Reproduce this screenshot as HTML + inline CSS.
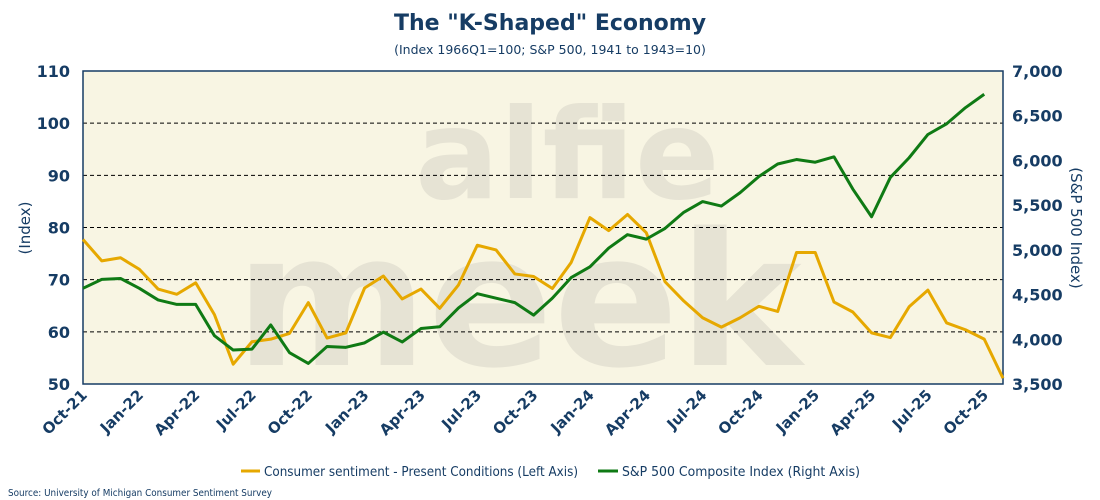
<!DOCTYPE html>
<html><head><meta charset="utf-8"><style>
body{margin:0;background:#fff;font-family:"DejaVu Sans","Liberation Sans",sans-serif}
svg{display:block}
</style></head><body>
<svg width="1100" height="500" xmlns="http://www.w3.org/2000/svg" font-family="DejaVu Sans, Liberation Sans, sans-serif">
<text x="550" y="30" text-anchor="middle" font-size="22" font-weight="bold" fill="#163c64">The "K-Shaped" Economy</text>
<text x="550" y="54" text-anchor="middle" font-size="12.5" fill="#163c64">(Index 1966Q1=100; S&amp;P 500, 1941 to 1943=10)</text>
<rect x="83" y="71" width="920" height="313" fill="#f8f5e3"/>
<g fill="#e6e3d4" font-weight="bold">
<text x="415" y="198" font-size="125" font-family="DejaVu Sans, sans-serif">alfie</text>
<text x="235" y="365" font-size="185" font-family="DejaVu Sans, sans-serif">meek</text>
</g>
<g id="grid"></g>
<rect x="83" y="71" width="920" height="313" fill="none" stroke="#163c64" stroke-width="1.5"/>
<g id="axes"></g>
<g id="series"></g>
<text transform="translate(30,228) rotate(-90)" text-anchor="middle" font-size="15" fill="#163c64">(Index)</text>
<text transform="translate(1071,228) rotate(90)" text-anchor="middle" font-size="15" fill="#163c64">(S&amp;P 500 Index)</text>
<g>
<line x1="241" y1="471" x2="260" y2="471" stroke="#e6a800" stroke-width="3"/>
<text x="264" y="476" font-size="13.5" textLength="314" lengthAdjust="spacingAndGlyphs" fill="#163c64">Consumer sentiment - Present Conditions (Left Axis)</text>
<line x1="598" y1="471" x2="618" y2="471" stroke="#0f7a14" stroke-width="3"/>
<text x="622" y="476" font-size="13.5" textLength="238" lengthAdjust="spacingAndGlyphs" fill="#163c64">S&amp;P 500 Composite Index (Right Axis)</text>
</g>
<text x="8" y="496" font-size="10" textLength="264" lengthAdjust="spacingAndGlyphs" fill="#163c64">Source: University of Michigan Consumer Sentiment Survey</text>
</svg>
<script>
const months=["Oct-21","Nov-21","Dec-21","Jan-22","Feb-22","Mar-22","Apr-22","May-22","Jun-22","Jul-22","Aug-22","Sep-22","Oct-22","Nov-22","Dec-22","Jan-23","Feb-23","Mar-23","Apr-23","May-23","Jun-23","Jul-23","Aug-23","Sep-23","Oct-23","Nov-23","Dec-23","Jan-24","Feb-24","Mar-24","Apr-24","May-24","Jun-24","Jul-24","Aug-24","Sep-24","Oct-24","Nov-24","Dec-24","Jan-25","Feb-25","Mar-25","Apr-25","May-25","Jun-25","Jul-25","Aug-25","Sep-25","Oct-25","Nov-25"];
const sentiment=[77.7,73.6,74.2,72,68.2,67.2,69.4,63.3,53.8,58.1,58.6,59.7,65.6,58.8,59.8,68.4,70.7,66.3,68.2,64.5,69,76.6,75.7,71.1,70.6,68.3,73.3,81.9,79.4,82.5,79,69.6,65.9,62.7,60.9,62.7,64.9,63.9,75.2,75.2,65.7,63.8,59.8,58.9,64.8,68,61.7,60.4,58.6,51.1];
const sp500=[4570,4670,4680,4570,4440,4390,4390,4040,3880,3890,4160,3850,3730,3920,3910,3960,4080,3970,4120,4140,4350,4510,4460,4410,4270,4460,4690,4810,5020,5170,5120,5240,5420,5540,5490,5640,5820,5960,6010,5980,6040,5680,5370,5810,6030,6290,6410,6590,6740];
const leftTicks=[50,60,70,80,90,100,110];
const rightTicks=[3500,4000,4500,5000,5500,6000,6500,7000];
const rightLabels=["3,500","4,000","4,500","5,000","5,500","6,000","6,500","7,000"];
const NS="http://www.w3.org/2000/svg";
const X0=83,X1=1003,Y0=384,Y1=71;
const xs=i=>X0+i*(X1-X0)/(months.length-1);
const yl=v=>Y0-(v-50)/(110-50)*(Y0-Y1);
const yr=v=>Y0-(v-3500)/(7000-3500)*(Y0-Y1);
function mk(t,a,p){const e=document.createElementNS(NS,t);for(const k in a)e.setAttribute(k,a[k]);p.appendChild(e);return e;}
const grid=document.getElementById('grid'),axes=document.getElementById('axes'),ser=document.getElementById('series');
leftTicks.forEach(v=>{
 if(v>50&&v<110){const g=mk('line',{x1:X0,x2:X1,y1:yl(v),y2:yl(v),stroke:'#000','stroke-width':1,'stroke-dasharray':'4,3'},grid);
 
 }
 const t=mk('text',{x:70,y:yl(v)+6,'text-anchor':'end','font-size':16,'font-weight':'bold',fill:'#163c64'},axes);t.textContent=v;
 
 
});
rightTicks.forEach((v,i)=>{
 const t=mk('text',{x:1012,y:yr(v)+6,'text-anchor':'start','font-size':16,'font-weight':'bold',fill:'#163c64'},axes);t.textContent=rightLabels[i];
 
 
});
months.forEach((m,i)=>{
 if(i%3!==0)return;
 const x=xs(i);
 const t=mk('text',{x:x+5,y:Y0+12,'text-anchor':'end','font-size':15,'font-weight':'bold',fill:'#163c64',transform:`rotate(-45 ${x+5} ${Y0+12})`},axes);t.textContent=m;
 
 
});
const p1=mk('polyline',{points:sentiment.map((v,i)=>xs(i)+','+yl(v)).join(' '),fill:'none',stroke:'#e6a800','stroke-width':3,'stroke-linejoin':'round'},ser);


const p2=mk('polyline',{points:sp500.map((v,i)=>xs(i)+','+yr(v)).join(' '),fill:'none',stroke:'#0f7a14','stroke-width':3,'stroke-linejoin':'round'},ser);


</script>
</body></html>
